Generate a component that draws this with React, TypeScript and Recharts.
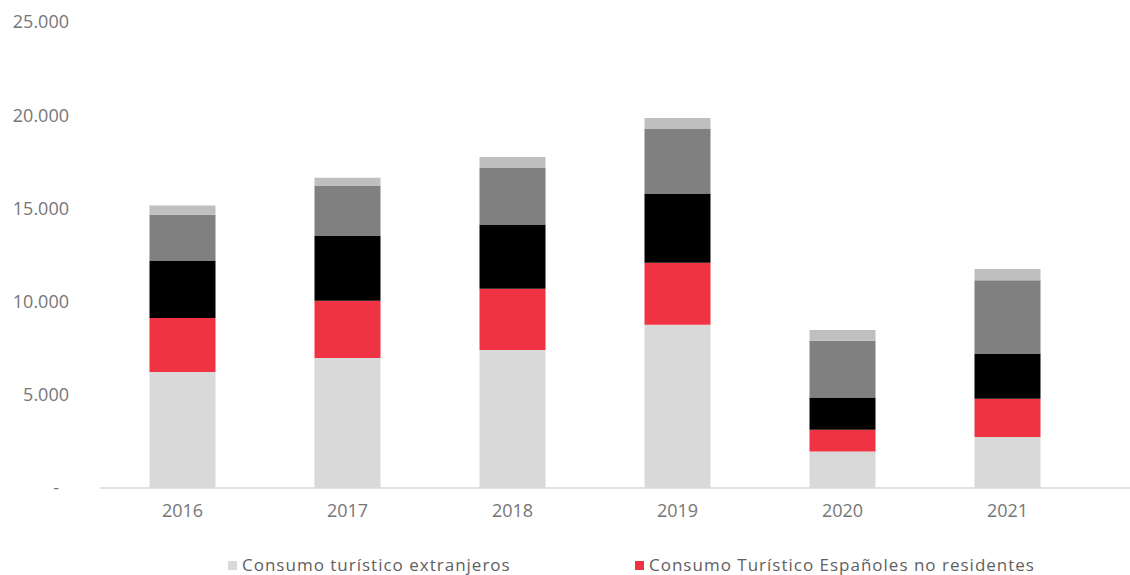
import React from 'react';
import { BarChart, Bar, XAxis, YAxis, Legend } from 'recharts';

const years = ['2016', '2017', '2018', '2019', '2020', '2021'];
const extranjeros = [6220, 6970, 7400, 8760, 1960, 2740];
const espanolesNoResidentes = [2900, 3080, 3290, 3330, 1170, 2050];
const serieNegra = [3090, 3500, 3450, 3710, 1730, 2430];
const serieGris = [2450, 2680, 3060, 3480, 3040, 3920];
const serieGrisClara = [490, 420, 560, 570, 580, 610];
const yTicks = [0, 5000, 10000, 15000, 20000, 25000];

const data = years.map((year, i) => ({
  year,
  extranjeros: extranjeros[i],
  espanoles: espanolesNoResidentes[i],
  negra: serieNegra[i],
  gris: serieGris[i],
  grisClara: serieGrisClara[i],
}));

const FONT = '"Open Sans", sans-serif';
const TICK_COLOR = '#767676';

const fmt = (v: number) =>
  v === 0 ? '-' : v.toString().replace(/\B(?=(\d{3})+(?!\d))/g, '.');

const YTick = (props: any) => {
  const { x, y, payload } = props;
  const zero = payload.value === 0;
  return (
    <text
      x={zero ? x - 10 : x}
      y={y}
      dy="0.355em"
      textAnchor="end"
      fill={TICK_COLOR}
      fontFamily={FONT}
      fontSize={18}
    >
      {fmt(payload.value)}
    </text>
  );
};

const legendItems = [
  { label: 'Consumo turístico extranjeros', color: '#d9d9d9', left: 228 },
  { label: 'Consumo Turístico Españoles no residentes', color: '#f03342', left: 635 },
];

const LegendContent = () => (
  <div style={{ position: 'relative', width: 1130, height: 40 }}>
    {legendItems.map(item => (
      <div
        key={item.label}
        style={{
          position: 'absolute',
          left: item.left,
          top: 20,
          display: 'flex',
          alignItems: 'center',
          fontFamily: FONT,
          fontSize: 17,
          letterSpacing: 1,
          lineHeight: '20px',
          color: '#5f5f5f',
          whiteSpace: 'nowrap',
        }}
      >
        <span style={{ width: 9, height: 9, background: item.color, marginRight: 5, display: 'inline-block' }} />
        {item.label}
      </div>
    ))}
  </div>
);

export default function App() {
  return (
    <div style={{ position: 'absolute', left: 0, top: 0 }}>
      <BarChart
        width={1130}
        height={575}
        data={data}
        margin={{ top: 22, right: 0, left: 0, bottom: 0 }}
        barCategoryGap="30%"
      >
        <XAxis
          dataKey="year"
          height={47}
          padding={{ left: 0, right: 40 }}
          axisLine={{ stroke: '#d9d9d9', strokeWidth: 1.5 }}
          tickLine={false}
          tickSize={0}
          tickMargin={16}
          tick={{ fill: TICK_COLOR, fontFamily: FONT, fontSize: 18 }}
        />
        <YAxis
          width={100}
          domain={[0, 25000]}
          ticks={yTicks}
          axisLine={false}
          tickLine={false}
          tickSize={0}
          tickMargin={31}
          tick={<YTick />}
        />
        <Legend verticalAlign="bottom" height={40} content={<LegendContent />} wrapperStyle={{ left: 0, bottom: 0 }} />
        <Bar dataKey="extranjeros" name="Consumo turístico extranjeros" stackId="a" fill="#d9d9d9" isAnimationActive={false} />
        <Bar dataKey="espanoles" name="Consumo Turístico Españoles no residentes" stackId="a" fill="#f03342" isAnimationActive={false} />
        <Bar dataKey="negra" stackId="a" fill="#000000" isAnimationActive={false} />
        <Bar dataKey="gris" stackId="a" fill="#808080" isAnimationActive={false} />
        <Bar dataKey="grisClara" stackId="a" fill="#bfbfbf" isAnimationActive={false} />
      </BarChart>
    </div>
  );
}
